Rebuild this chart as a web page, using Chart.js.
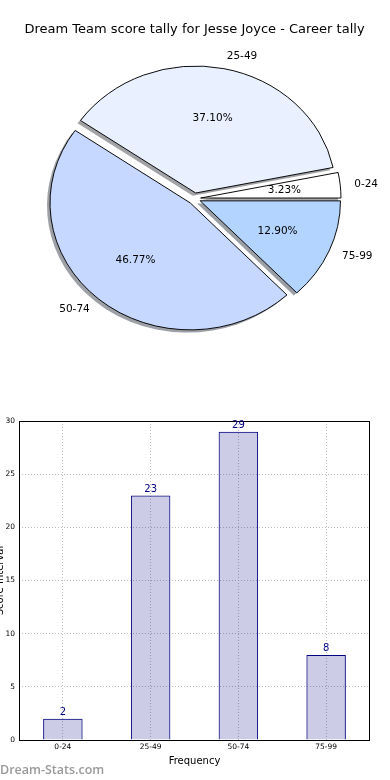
<!DOCTYPE html>
<html>
<head>
<meta charset="utf-8">
<script src="https://cdn.jsdelivr.net/npm/chart.js@4.4.1/dist/chart.umd.min.js"></script>
<style>
    html, body { margin: 0; padding: 0; background: #fff; }
    #wrap { position: relative; width: 390px; height: 780px; overflow: hidden; }
    canvas { position: absolute; left: 0; }
</style>
</head>
<body>
<div id="wrap">
    <canvas id="pie" width="390" height="390" style="top:0"></canvas>
    <canvas id="bar" width="390" height="390" style="top:390px"></canvas>
</div>
<script>
// ---- data ----
const chartTitle = 'Dream Team score tally for Jesse Joyce - Career tally';
const categories = ['0-24', '25-49', '50-74', '75-99'];
const scoreCounts = [2, 23, 29, 8];
const sliceColors = ['#ffffff', '#e9f0ff', '#c6d8ff', '#b3d4ff'];
const yTickStep = 5;
const yMax = 30;
const xAxisTitle = 'Frequency';
const yAxisTitle = 'Score Interval';
const watermark = 'Dream-Stats.com';

const FONT = '"DejaVu Sans", Verdana, sans-serif';
const EXPLODE = 6.3;   // px each wedge is pulled out
const SQUASH = 0.905;  // original pie is an ellipse (no equal aspect)

const total = scoreCounts.reduce((a, b) => a + b, 0);

// original runs counter-clockwise from 3 o'clock, Chart.js runs clockwise -> reverse
const pieLabels = categories.slice().reverse();
const pieValues = scoreCounts.slice().reverse();
const pieColors = sliceColors.slice().reverse();

function shadowColor(hex) {
    const n = parseInt(hex.slice(1), 16);
    const r = Math.round(((n >> 16) & 255) * 0.3);
    const g = Math.round(((n >> 8) & 255) * 0.3);
    const b = Math.round((n & 255) * 0.3);
    return `rgba(${r},${g},${b},0.5)`;
}

const pieDraw = {
    id: 'pieDraw',
    beforeDatasetDraw(chart, args) {
        const ctx = chart.ctx;
        const arcs = args.meta.data;
        const cy = arcs[0].y;
        ctx.save();
        ctx.translate(0, cy);
        ctx.scale(1, SQUASH);
        ctx.translate(0, -cy);

        // shadows go under every wedge
        arcs.forEach((arc, i) => {
            const p = arc.getProps(['x', 'y', 'startAngle', 'endAngle', 'outerRadius']);
            const mid = (p.startAngle + p.endAngle) / 2;
            const ox = p.x + Math.cos(mid) * EXPLODE - 3;
            const oy = p.y + Math.sin(mid) * EXPLODE + 3;
            ctx.beginPath();
            ctx.moveTo(ox, oy);
            ctx.arc(ox, oy, p.outerRadius, p.startAngle, p.endAngle);
            ctx.closePath();
            ctx.fillStyle = shadowColor(pieColors[i]);
            ctx.fill();
        });

        // wedges, each pulled out along its middle angle
        arcs.forEach(arc => {
            const mid = (arc.startAngle + arc.endAngle) / 2;
            ctx.save();
            ctx.translate(Math.cos(mid) * EXPLODE, Math.sin(mid) * EXPLODE);
            arc.draw(ctx);
            ctx.restore();
        });
        ctx.restore();
        return false;
    },
    afterDatasetsDraw(chart) {
        const ctx = chart.ctx;
        const arcs = chart.getDatasetMeta(0).data;
        ctx.save();
        ctx.fillStyle = '#000';
        ctx.font = `10.5px ${FONT}`;
        ctx.textBaseline = 'middle';
        arcs.forEach((arc, i) => {
            const mid = (arc.startAngle + arc.endAngle) / 2;
            const c = Math.cos(mid), s = Math.sin(mid);
            const r1 = EXPLODE + arc.outerRadius * 0.6;
            const r2 = EXPLODE + arc.outerRadius * 1.1;
            ctx.textAlign = 'center';
            ctx.fillText((pieValues[i] / total * 100).toFixed(2) + '%', arc.x + c * r1, arc.y + s * r1 * SQUASH);
            ctx.textAlign = c > 0 ? 'left' : 'right';
            ctx.fillText(pieLabels[i], arc.x + c * r2, arc.y + s * r2 * SQUASH);
        });
        ctx.restore();
    },
    afterDraw(chart) {
        const ctx = chart.ctx;
        ctx.save();
        ctx.fillStyle = '#000';
        ctx.font = `13px ${FONT}`;
        ctx.textAlign = 'center';
        ctx.textBaseline = 'middle';
        ctx.fillText(chartTitle, 194.5, 30);
        ctx.restore();
    }
};

new Chart(document.getElementById('pie'), {
    type: 'pie',
    data: {
        labels: pieLabels,
        datasets: [{
            data: pieValues,
            backgroundColor: pieColors,
            borderColor: '#000',
            borderWidth: 1
        }]
    },
    options: {
        responsive: false,
        animation: false,
        events: [],
        rotation: 90,
        radius: 140.3,
        layout: { padding: { top: 7.2, right: 1.2 } },
        plugins: { legend: { display: false }, tooltip: { enabled: false } }
    },
    plugins: [pieDraw]
});

// ---- bar chart ----
const barExtras = {
    id: 'barExtras',
    afterDraw(chart) {
        const ctx = chart.ctx;
        const a = chart.chartArea;
        const x = chart.scales.x, y = chart.scales.y;
        ctx.save();
        // frame on all four sides
        ctx.strokeStyle = '#000';
        ctx.lineWidth = 1;
        ctx.strokeRect(Math.round(a.left) + 0.5, Math.round(a.top) + 0.5,
            Math.round(a.right - a.left) - 1, Math.round(a.bottom - a.top));

        // values above bars
        ctx.fillStyle = '#000080';
        ctx.font = `10px ${FONT}`;
        ctx.textAlign = 'center';
        ctx.textBaseline = 'alphabetic';
        scoreCounts.forEach((v, i) => {
            ctx.fillText(String(v), x.getPixelForValue(i), y.getPixelForValue(v) - 3.5);
        });

        // axis titles
        ctx.fillStyle = '#000';
        ctx.fillText(xAxisTitle, (a.left + a.right) / 2, 373.5);
        ctx.save();
        ctx.translate(2.5, (a.top + a.bottom) / 2);
        ctx.rotate(-Math.PI / 2);
        ctx.fillText(yAxisTitle, 0, 0);
        ctx.restore();

        // watermark
        ctx.fillStyle = '#9a9a9a';
        ctx.font = `600 12.5px "Open Sans", ${FONT}`;
        ctx.textAlign = 'left';
        ctx.textBaseline = 'middle';
        ctx.fillText(watermark, 0, 380);
        ctx.restore();
    }
};

const gridStyle = { color: '#bdbdbd', lineWidth: 1, drawTicks: false };

new Chart(document.getElementById('bar'), {
    type: 'bar',
    data: {
        labels: categories,
        datasets: [{
            data: scoreCounts,
            backgroundColor: 'rgba(0,0,128,0.2)',
            borderColor: '#000080',
            borderWidth: 1,
            barPercentage: 0.45,
            categoryPercentage: 1
        }]
    },
    options: {
        responsive: false,
        animation: false,
        events: [],
        layout: { padding: { top: 31, right: 20, left: 0, bottom: 0 } },
        plugins: { legend: { display: false }, tooltip: { enabled: false } },
        scales: {
            x: {
                grid: { ...gridStyle, offset: false },
                border: { display: false, dash: [1, 2] },
                ticks: { color: '#000', font: { size: 7.5, family: FONT }, padding: 3, maxRotation: 0 },
                afterFit: s => { s.height = 40; }
            },
            y: {
                min: 0,
                max: yMax,
                grid: gridStyle,
                border: { display: false, dash: [1, 2] },
                ticks: { stepSize: yTickStep, color: '#000', font: { size: 7.5, family: FONT }, padding: 4 },
                afterFit: s => { s.width = 19; }
            }
        }
    },
    plugins: [barExtras]
});
</script>
</body>
</html>
